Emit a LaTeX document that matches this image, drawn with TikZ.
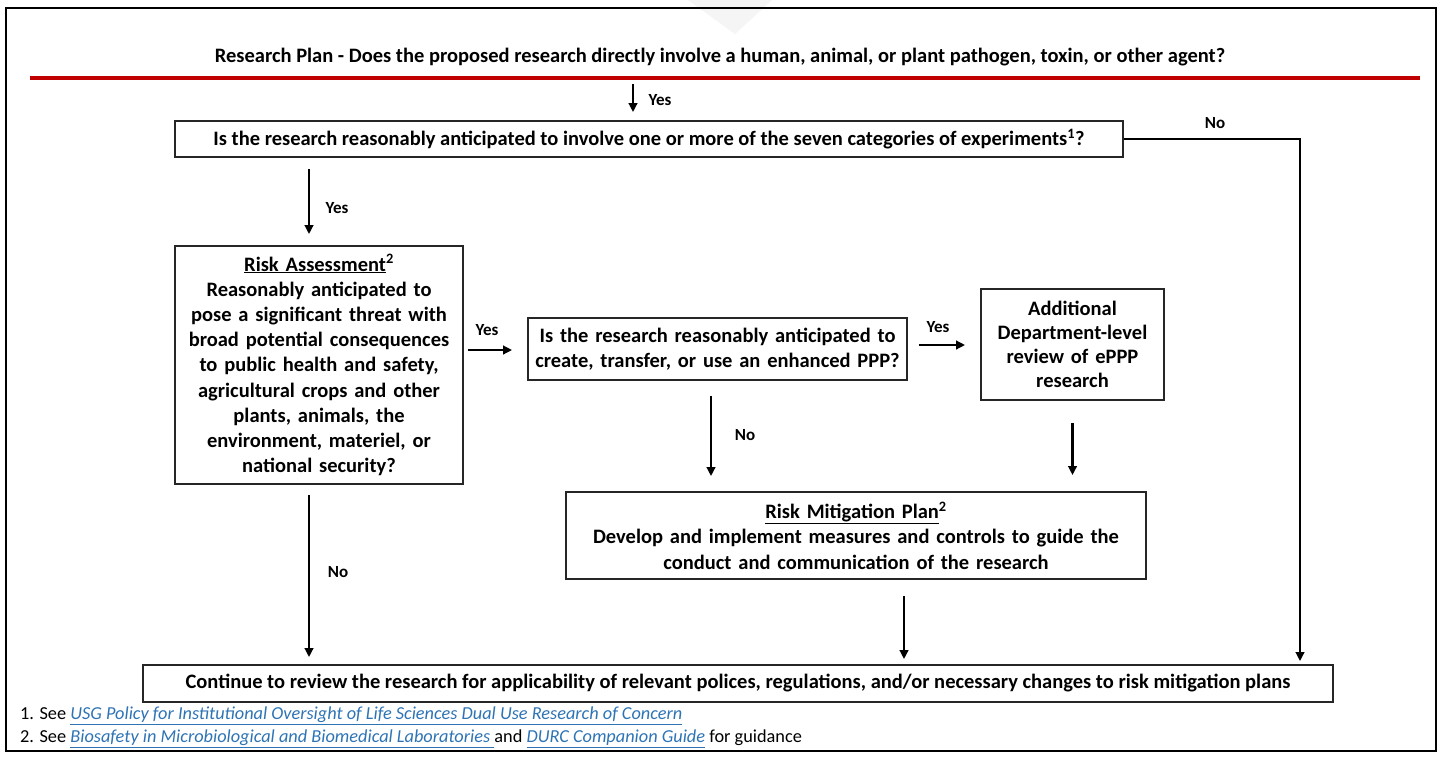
\documentclass[tikz,border=0pt]{standalone}
\usepackage{fontspec}
\setmainfont{Carlito}
\usetikzlibrary{arrows.meta}
\definecolor{redline}{HTML}{C00000}
\definecolor{linkblue}{HTML}{2E74B5}
\newcommand{\lnk}[1]{{\color{linkblue}\itshape\underline{#1}}}
\begin{document}
\begin{tikzpicture}[x=1pt,y=-1pt,
  box/.style={draw=black!85, line width=1.8pt, inner sep=0pt, align=center,
    font=\bfseries\fontsize{20.5}{25.2}\selectfont},
  arr/.style={line width=2.4pt, -{Triangle[length=9pt,width=8.5pt]}},
  lbl/.style={font=\bfseries\fontsize{17}{20}\selectfont, inner sep=0pt},
  foot/.style={font=\fontsize{18.3}{20}\selectfont, inner sep=0pt, anchor=west}]
\useasboundingbox (0,0) rectangle (1440,756);
\fill[white] (0,0) rectangle (1440,756);
\fill[gray!8] (688,0) -- (772,0) -- (735,34) -- cycle;
\draw[line width=2pt] (6,8) rectangle (1436,751);
% title
\node[font=\bfseries\fontsize{20.5}{24}\selectfont, inner sep=0pt] (t) at (720,57)
  {Research Plan - Does the proposed research directly involve a human, animal, or plant pathogen, toxin, or other agent?};
\draw[redline, line width=3.5pt] (30,78) -- (1420,78);
% boxes
\node[box, minimum width=948, minimum height=36] (q1) at (649,139)
  {Is the research reasonably anticipated to involve one or more of the seven categories of experiments\textsuperscript{1}?};
\node[box, minimum width=288, minimum height=238, text width=284] (ra) at (319,365)
  {\underline{Risk Assessment}\textsuperscript{2}\\Reasonably anticipated to\\pose a significant threat with\\broad potential consequences\\to public health and safety,\\agricultural crops and other\\plants, animals, the\\environment, materiel, or\\national security?};
\node[box, minimum width=379, minimum height=62, text width=375] (ppp) at (717.5,349)
  {Is the research reasonably anticipated to\\create, transfer, or use an enhanced PPP?};
\node[box, minimum width=183, minimum height=111, text width=179,
  font=\bfseries\fontsize{20.5}{24}\selectfont] (add) at (1072.5,344.5)
  {Additional\\Department-level\\review of ePPP\\research};
\node[box, minimum width=580, minimum height=87, text width=575] (rm) at (856,535.5)
  {\underline{Risk Mitigation Plan}\textsuperscript{2}\\Develop and implement measures and controls to guide the\\conduct and communication of the research};
\node[box, minimum width=1190, minimum height=37] (bot) at (738,683.5)
  {Continue to review the research for applicability of relevant polices, regulations, and/or necessary changes to risk mitigation plans};
% arrows
\draw[arr] ([shift={(-87,27)}]t.center) -- ([shift={(-16,-8)}]q1.north);
\draw[arr] ([shift={(-340,11)}]q1.south) -- ([shift={(-10,-11)}]ra.north);
\draw[arr, line join=miter] (q1.east) -| ([shift={(562,-3)}]bot.north);
\draw[arr] ([shift={(4,-15)}]ra.east) -- ([shift={(-15,1)}]ppp.west);
\draw[arr] ([shift={(11,-4)}]ppp.east) -- ([shift={(-15,0.5)}]add.west);
\draw[arr] ([shift={(-6.5,15)}]ppp.south) -- ([shift={(-145,-15)}]rm.north);
\draw[arr] ([shift={(0,22)}]add.south) -- ([shift={(216.5,-16)}]rm.north);
\draw[arr] ([shift={(48,16)}]rm.south) -- ([shift={(166,-5)}]bot.north);
\draw[arr] ([shift={(-10,10)}]ra.south) -- ([shift={(-429,-7)}]bot.north);
% labels
\node[lbl] (l1) at (660,100) {Yes};
\node[lbl] (l2) at (337,208) {Yes};
\node[lbl] (l3) at (1215,123) {No};
\node[lbl] (l4) at (487,330) {Yes};
\node[lbl] (l5) at (938,327) {Yes};
\node[lbl] (l6) at (745,435) {No};
\node[lbl] (l7) at (338,572) {No};
% footnotes
\node[foot] (f1) at (20,716) {1. See \lnk{USG Policy for Institutional Oversight of Life Sciences Dual Use Research of Concern}};
\node[foot] (f2) at (20,739) {2. See \lnk{Biosafety in Microbiological and Biomedical Laboratories }and \lnk{DURC Companion Guide} for guidance};
\end{tikzpicture}
\end{document}
